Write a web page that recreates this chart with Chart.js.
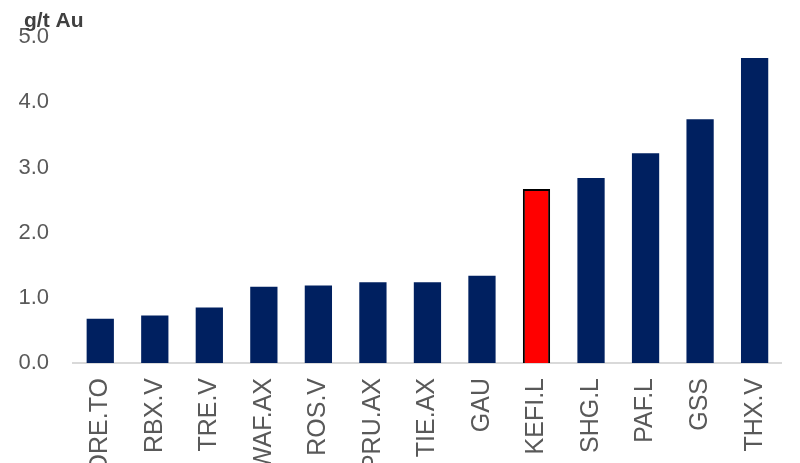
<!DOCTYPE html>
<html>
<head>
<meta charset="utf-8">
<title>Grade comparison</title>
<script src="https://cdn.jsdelivr.net/npm/chart.js@4/dist/chart.umd.min.js"></script>
<style>
  html, body { margin: 0; padding: 0; background: #ffffff; }
  #wrap { width: 800px; height: 463px; }
</style>
</head>
<body>
<div id="wrap"><canvas id="grade-chart" width="800" height="463"></canvas></div>
<script>
const companies = ['ORE.TO', 'RBX.V', 'TRE.V', 'WAF.AX', 'ROS.V', 'PRU.AX', 'TIE.AX', 'GAU', 'KEFI.L', 'SHG.L', 'PAF.L', 'GSS', 'THX.V']
const grades = [0.68, 0.73, 0.85, 1.17, 1.19, 1.24, 1.24, 1.34, 2.67, 2.84, 3.22, 3.74, 4.68]
const highlight = 'KEFI.L'
const yTicks = [0, 1, 2, 3, 4, 5]
const unitLabel = 'g/t Au'

const navy = '#002060'
const red = '#ff0000'

// unit label sits above the value axis, left aligned
const unitTitle = {
  id: 'unitTitle',
  afterDraw(chart) {
    const c = chart.ctx
    c.save()
    c.font = 'bold 21px "Liberation Sans", Arial, sans-serif'
    c.fillStyle = '#404040'
    c.textAlign = 'left'
    c.textBaseline = 'alphabetic'
    c.fillText(unitLabel, 24, 27)
    c.restore()
  }
}

const ctx = document.getElementById('grade-chart')

new Chart(ctx, {
  type: 'bar',
  data: {
    labels: companies,
    datasets: [{
      label: unitLabel,
      data: grades,
      backgroundColor: companies.map(c => c === highlight ? red : navy),
      borderColor: companies.map(c => c === highlight ? '#000000' : navy),
      borderWidth: companies.map(c => c === highlight ? 2 : 0),
      barPercentage: 0.5,
      categoryPercentage: 1
    }]
  },
  options: {
    responsive: false,
    animation: false,
    layout: {
      padding: { left: 0, right: 10, top: 37, bottom: 0 }
    },
    plugins: {
      legend: { display: false },
      tooltip: { enabled: false },
      title: { display: false }
    },
    scales: {
      x: {
        grid: { display: false, drawTicks: false },
        border: { display: true, color: '#d9d9d9', width: 2 },
        ticks: {
          autoSkip: false,
          minRotation: 90,
          maxRotation: 90,
          padding: 15,
          color: '#595959',
          font: { family: 'Liberation Sans, Arial, sans-serif', size: 25 }
        },
        afterFit(scale) {
          scale.height = 100
        }
      },
      y: {
        min: yTicks[0],
        max: yTicks[yTicks.length - 1],
        grid: { display: false, drawTicks: false },
        border: { display: false },
        afterBuildTicks(scale) {
          scale.ticks = yTicks.map(v => ({ value: v }))
        },
        ticks: {
          padding: 24,
          color: '#595959',
          font: { family: 'Liberation Sans, Arial, sans-serif', size: 22 },
          callback: value => Number(value).toFixed(1)
        },
        afterFit(scale) {
          scale.width = 73
        }
      }
    }
  },
  plugins: [unitTitle]
})
</script>
</body>
</html>
